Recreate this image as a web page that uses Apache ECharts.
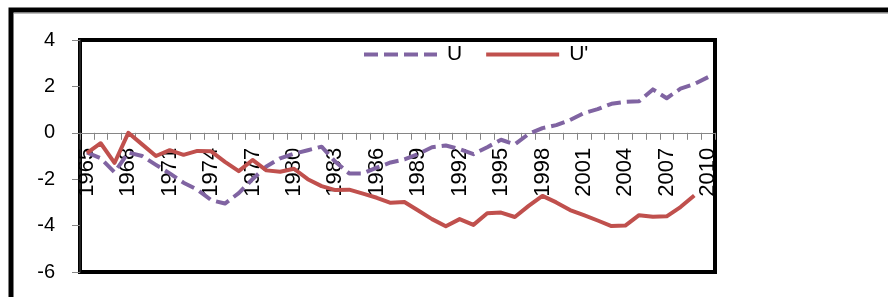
<!DOCTYPE html>
<html>
<head>
<meta charset="utf-8">
<script src="https://cdn.jsdelivr.net/npm/echarts@6/dist/echarts.min.js"></script>
<style>
html,body{margin:0;padding:0;background:#fff;}
#c{width:888px;height:297px;}
</style>
</head>
<body>
<div id="c"></div>
<script>
var years = [];
for (var y = 1965; y <= 2010; y++) years.push(String(y));

var seriesNames = ["U", "U'"];

var uValues = [
  -0.85, -1.1, -1.7, -0.85, -1.0, -1.38, -1.75, -2.15, -2.45, -2.9,
  -3.05, -2.6, -2.0, -1.45, -1.1, -0.9, -0.75, -0.6, -1.25, -1.75,
  -1.75, -1.5, -1.28, -1.15, -0.92, -0.62, -0.55, -0.7, -0.92, -0.62,
  -0.3, -0.5, -0.05, 0.2, 0.33, 0.55, 0.85, 1.02, 1.25, 1.33,
  1.36, 1.87, 1.49, 1.9, 2.1, 2.4
];

var uPrimeValues = [
  -0.88, -0.45, -1.3, 0.0, -0.5, -1.0, -0.75, -0.95, -0.78, -0.8,
  -1.25, -1.65, -1.17, -1.62, -1.68, -1.55, -2.0, -2.3, -2.47, -2.45,
  -2.62, -2.8, -3.02, -2.98, -3.35, -3.72, -4.03, -3.72, -3.97, -3.47,
  -3.44, -3.63, -3.15, -2.72, -3.0, -3.33, -3.55, -3.78, -4.02, -4.0,
  -3.55, -3.62, -3.6, -3.2, -2.7, null
];

var yTicks = { min: -6, max: 4, interval: 2 };

var W = 888, H = 297;
var gridBox = {left: 80, top: 40, right: 173, bottom: 25};
var plotH = H - gridBox.top - gridBox.bottom;
// place the category axis where the value axis crosses zero
var zeroOffset = -plotH * (0 - yTicks.min) / (yTicks.max - yTicks.min);

var chart = echarts.init(document.getElementById('c'), null, {renderer: 'canvas'});
var font = 'Liberation Sans';
chart.setOption({
  animation: false,
  backgroundColor: '#fff',
  graphic: [{
    type: 'rect',
    shape: {x: 11, y: 10, width: 1000, height: 400},
    style: {fill: 'none', stroke: '#000', lineWidth: 5},
    silent: true,
    z: 100
  }, {
    type: 'line',
    shape: {x1: 14, y1: 13.5, x2: 888, y2: 13.5},
    style: {stroke: '#bbb', lineWidth: 1},
    silent: true,
    z: 100
  }],
  legend: {
    left: 362,
    top: 44,
    itemWidth: 73,
    itemHeight: 14,
    itemGap: 22,
    padding: 0,
    itemStyle: {opacity: 0, borderWidth: 0},
    lineStyle: {width: 4},
    textStyle: {fontFamily: font, fontSize: 21, color: '#000', padding: [0, 0, 0, 5]},
    data: seriesNames
  },
  grid: {
    left: gridBox.left, top: gridBox.top, right: gridBox.right, bottom: gridBox.bottom,
    show: true, borderColor: '#000', borderWidth: 4, backgroundColor: 'transparent',
    containLabel: false,
    outerBoundsMode: 'none'
  },
  xAxis: {
    type: 'category',
    data: years,
    boundaryGap: true,
    position: 'bottom',
    offset: zeroOffset,
    z: 0,
    axisLine: {show: true, onZero: false, lineStyle: {color: '#868686', width: 1}},
    axisTick: {show: true, interval: 0, length: 7, lineStyle: {color: '#868686'}},
    axisLabel: {interval: 2, rotate: 90, margin: 15, fontFamily: font, fontSize: 22, color: '#000'},
    splitLine: {show: false}
  },
  yAxis: {
    type: 'value',
    min: yTicks.min, max: yTicks.max, interval: yTicks.interval,
    axisLine: {show: true, lineStyle: {color: '#222', width: 2}},
    axisTick: {show: true, length: 8, lineStyle: {color: '#868686'}},
    axisLabel: {fontFamily: font, fontSize: 20, color: '#000', margin: 25},
    splitLine: {show: false}
  },
  series: [
    {
      name: seriesNames[0], type: 'line', data: uValues, z: 5,
      symbol: 'none', smooth: false,
      lineStyle: {color: '#8064A2', width: 4, type: [14, 6], cap: 'butt', join: 'round'},
      itemStyle: {color: '#8064A2'}
    },
    {
      name: seriesNames[1], type: 'line', data: uPrimeValues, z: 6,
      symbol: 'none', smooth: false, connectNulls: false,
      lineStyle: {color: '#C0504D', width: 4, type: 'solid', join: 'round'},
      itemStyle: {color: '#C0504D'}
    }
  ]
});
</script>
</body>
</html>
